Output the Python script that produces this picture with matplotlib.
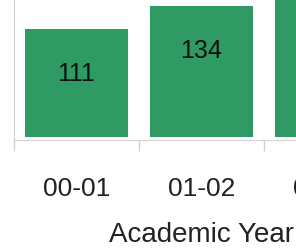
import matplotlib.pyplot as plt
import numpy as np

plt.rcParams['font.family'] = ['Liberation Sans', 'DejaVu Sans']

years = ['00-01', '01-02', '02-03']
counts = [111, 134, 152]

bar_color = '#2f9a63'
axis_color = '#d6d0d6'

fig = plt.figure(figsize=(2.96, 2.52), dpi=100)
# axes runs past the right edge of the figure, like the cropped original
ax = fig.add_axes([14/296, 112/252, 375/296, 140/252])

x = np.arange(len(years))
ax.bar(x, counts, width=0.83, color=bar_color)
for xi, v in zip(x, counts):
    ax.annotate(str(v), (xi, v), xytext=(0, -32.5), textcoords='offset points',
                ha='center', va='center', fontsize=18, color='#111111')

ax.set_xlim(-0.5, 2.5)
ax.set_ylim(-3, 140.5)

ax.set_xticks(x)
ax.set_xticklabels(years, fontsize=19, color='#222222')
ax.tick_params(axis='x', which='major', length=0, pad=27)
ax.set_xticks(np.arange(-0.5, 3, 1), minor=True)
ax.tick_params(axis='x', which='minor', length=8, color=axis_color, width=1)
ax.set_yticks([])

for s in ['top', 'right']:
    ax.spines[s].set_visible(False)
ax.spines['left'].set_color(axis_color)
ax.spines['bottom'].set_color(axis_color)

ax.set_xlabel('Academic Year', fontsize=20, color='#222222', labelpad=15)

fig.savefig('out.png', dpi=100)
